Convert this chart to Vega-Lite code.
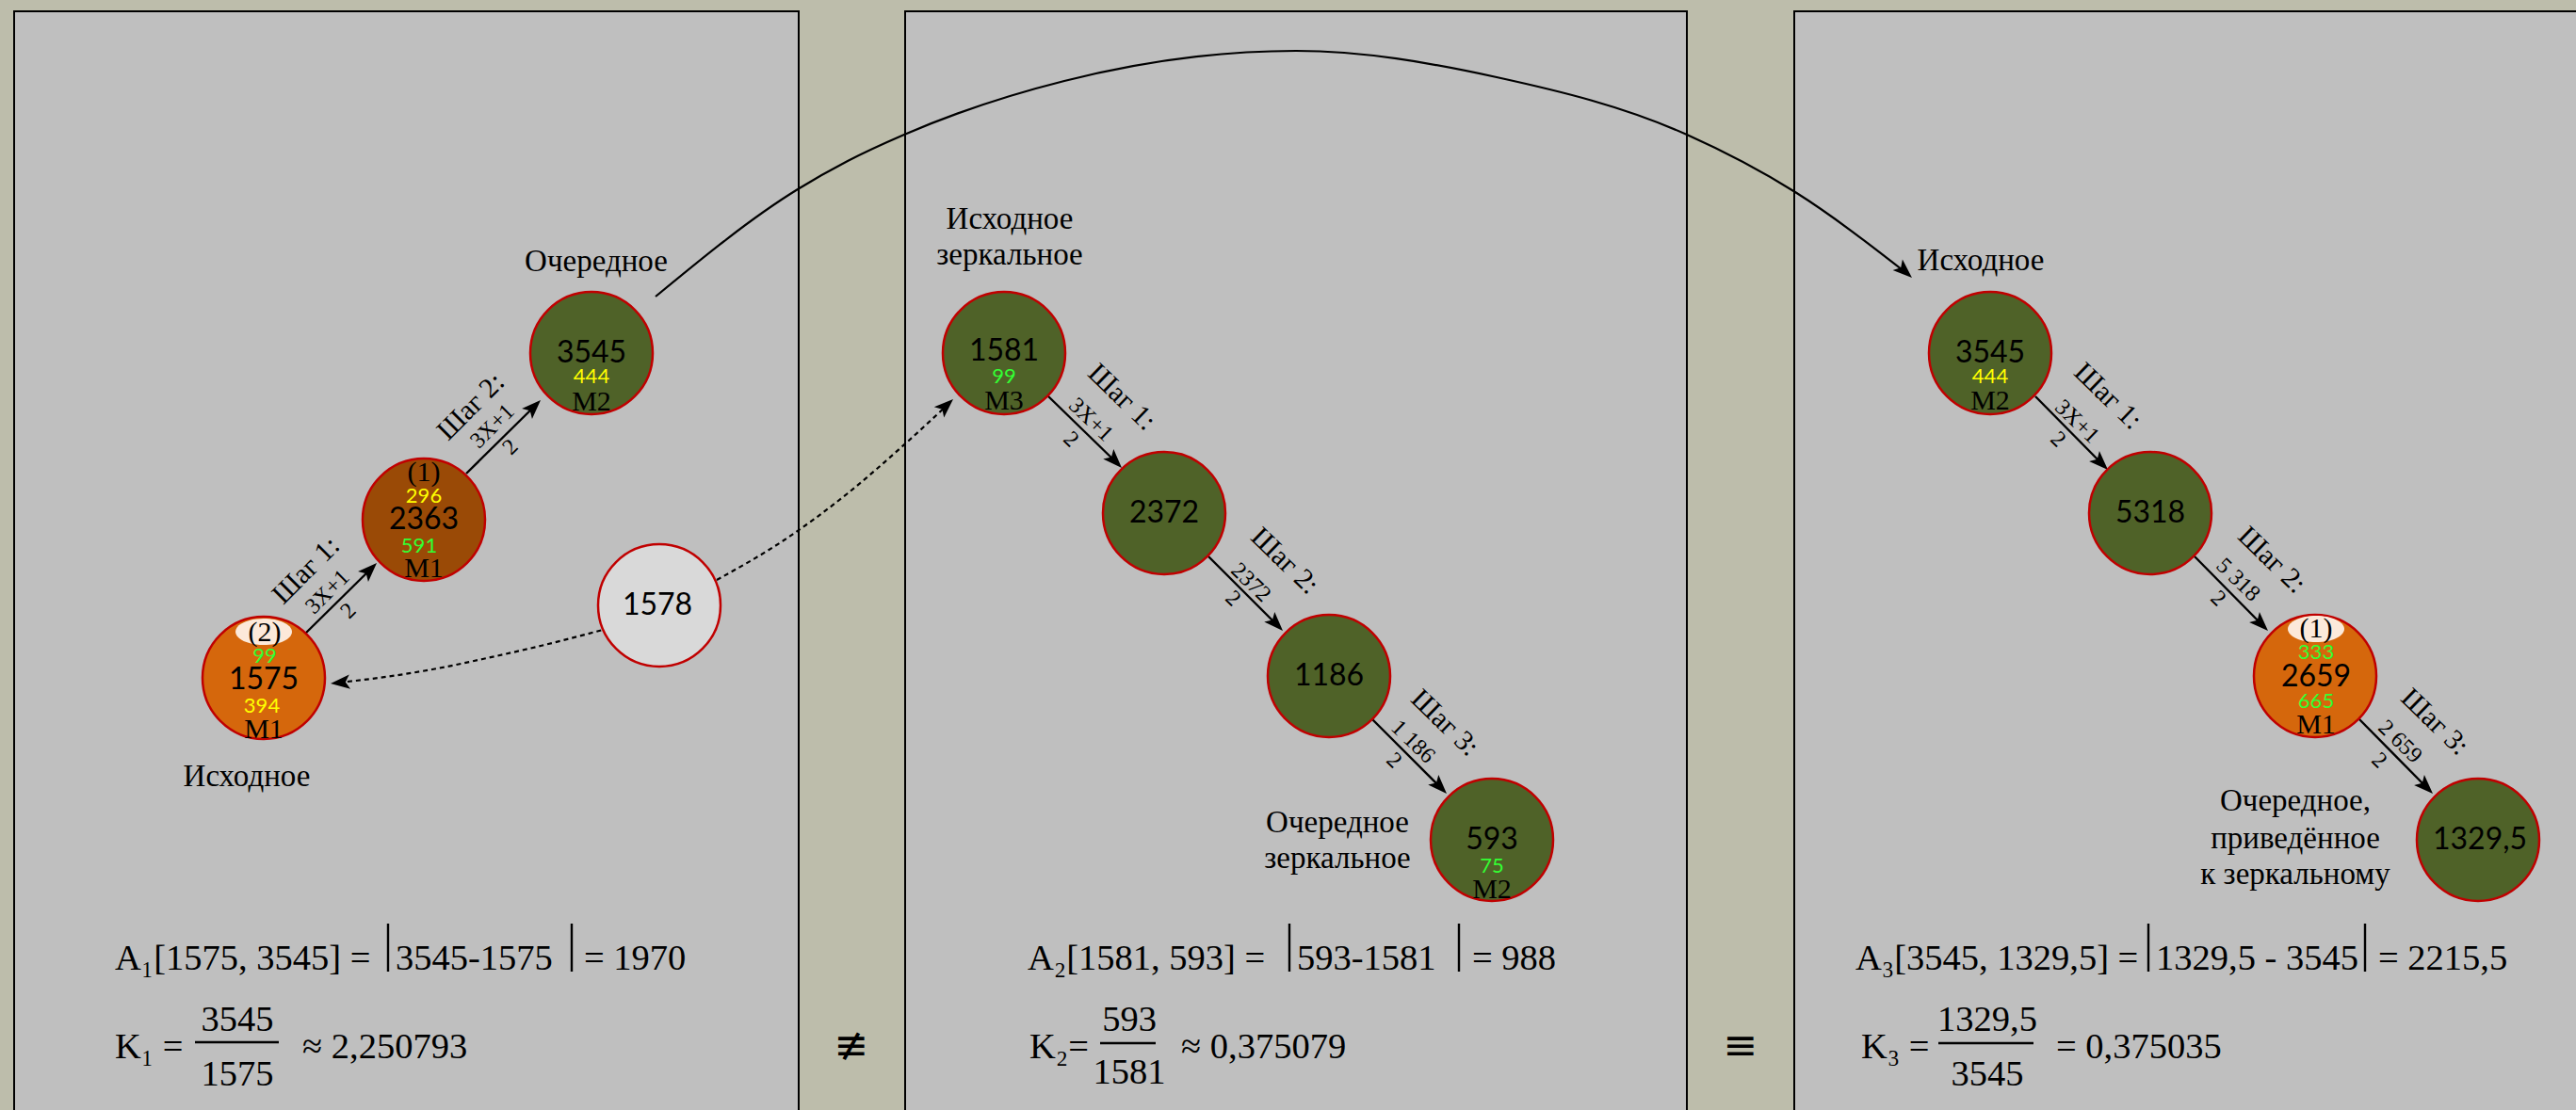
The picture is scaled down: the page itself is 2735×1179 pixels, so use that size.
{
  "$schema": "https://vega.github.io/schema/vega-lite/v6.json",
  "width": 2735,
  "height": 1179,
  "autosize": {"type": "fit", "contains": "padding"},
  "padding": 0,
  "background": "#BDBDAB",
  "config": {"view": {"stroke": null}},
  "datasets": {
    "panels": [
      {"x": 15, "x2": 848, "y": 12, "y2": 1200},
      {"x": 961, "x2": 1791, "y": 12, "y2": 1200},
      {"x": 1905, "x2": 2760, "y": 12, "y2": 1200}
    ],
    "curves": [
      {"s": "arc", "x": 696, "y": 315}, {"s": "arc", "x": 847, "y": 201}, {"s": "arc", "x": 900, "y": 171},
      {"s": "arc", "x": 960, "y": 143}, {"s": "arc", "x": 1130, "y": 86}, {"s": "arc", "x": 1376, "y": 54},
      {"s": "arc", "x": 1589, "y": 82}, {"s": "arc", "x": 1791, "y": 143}, {"s": "arc", "x": 1906, "y": 204},
      {"s": "arc", "x": 2024, "y": 290},
      {"s": "dotA", "x": 360, "y": 725}, {"s": "dotA", "x": 402, "y": 720}, {"s": "dotA", "x": 459, "y": 711},
      {"s": "dotA", "x": 517, "y": 699}, {"s": "dotA", "x": 574, "y": 686}, {"s": "dotA", "x": 640, "y": 669},
      {"s": "dotB", "x": 761, "y": 616}, {"s": "dotB", "x": 832, "y": 574}, {"s": "dotB", "x": 900, "y": 524},
      {"s": "dotB", "x": 957, "y": 475}, {"s": "dotB", "x": 1006, "y": 430}
    ],
    "rules": [
      {"x": 324, "y": 673, "x2": 394, "y2": 604}, {"x": 495, "y": 503, "x2": 568, "y2": 431},
      {"x": 1112, "y": 420, "x2": 1185, "y2": 491}, {"x": 1283, "y": 591, "x2": 1356, "y2": 664},
      {"x": 1457, "y": 764, "x2": 1530, "y2": 837},
      {"x": 2161, "y": 421, "x2": 2232, "y2": 493}, {"x": 2330, "y": 591, "x2": 2402, "y2": 664},
      {"x": 2504, "y": 763, "x2": 2577, "y2": 837},
      {"x": 412, "y": 981, "x2": 412, "y2": 1032}, {"x": 607, "y": 981, "x2": 607, "y2": 1032},
      {"x": 1369, "y": 981, "x2": 1369, "y2": 1032}, {"x": 1549, "y": 981, "x2": 1549, "y2": 1032},
      {"x": 2281, "y": 981, "x2": 2281, "y2": 1032}, {"x": 2511, "y": 981, "x2": 2511, "y2": 1032},
      {"x": 207, "y": 1107, "x2": 296, "y2": 1107}, {"x": 1168, "y": 1108, "x2": 1227, "y2": 1108},
      {"x": 2058, "y": 1108, "x2": 2159, "y2": 1108}
    ],
    "heads": [
      {"x": 400, "y": 598, "a": 45}, {"x": 574, "y": 425, "a": 45},
      {"x": 1191, "y": 497, "a": 136}, {"x": 1362, "y": 670, "a": 136}, {"x": 1536, "y": 843, "a": 136},
      {"x": 2238, "y": 499, "a": 135}, {"x": 2408, "y": 670, "a": 135}, {"x": 2583, "y": 843, "a": 135},
      {"x": 351, "y": 726, "a": 265}, {"x": 1012, "y": 424, "a": 47}, {"x": 2030, "y": 295, "a": 132}
    ],
    "nodes": [
      {"x": 280, "y": 720, "k": "orange"}, {"x": 450, "y": 552, "k": "brown"}, {"x": 628, "y": 375, "k": "green"},
      {"x": 700, "y": 643, "k": "grey"}, {"x": 1066, "y": 375, "k": "green"}, {"x": 1236, "y": 545, "k": "green"},
      {"x": 1411, "y": 718, "k": "green"}, {"x": 1584, "y": 892, "k": "green"}, {"x": 2113, "y": 375, "k": "green"},
      {"x": 2283, "y": 545, "k": "green"}, {"x": 2458, "y": 718, "k": "orange"}, {"x": 2631, "y": 892, "k": "green"}
    ],
    "caps": [
      {"x": 280, "y": 671}, {"x": 2459, "y": 668}
    ],
    "texts": [
      {"x": 280, "y": 722, "t": "1575", "k": "num"}, {"x": 450, "y": 552, "t": "2363", "k": "num"},
      {"x": 628, "y": 375, "t": "3545", "k": "num"}, {"x": 698, "y": 643, "t": "1578", "k": "num"},
      {"x": 1066, "y": 373, "t": "1581", "k": "num"}, {"x": 1236, "y": 545, "t": "2372", "k": "num"},
      {"x": 1411, "y": 718, "t": "1186", "k": "num"}, {"x": 1584, "y": 892, "t": "593", "k": "num"},
      {"x": 2113, "y": 375, "t": "3545", "k": "num"}, {"x": 2283, "y": 545, "t": "5318", "k": "num"},
      {"x": 2459, "y": 719, "t": "2659", "k": "num"}, {"x": 2633, "y": 892, "t": "1329,5", "k": "num"},
      {"x": 281, "y": 697, "t": "99", "k": "green"}, {"x": 445, "y": 580, "t": "591", "k": "green"},
      {"x": 1066, "y": 400, "t": "99", "k": "green"}, {"x": 1584, "y": 920, "t": "75", "k": "green"},
      {"x": 2459, "y": 693, "t": "333", "k": "green"}, {"x": 2459, "y": 745, "t": "665", "k": "green"},
      {"x": 278, "y": 750, "t": "394", "k": "yellow"}, {"x": 450, "y": 527, "t": "296", "k": "yellow"},
      {"x": 628, "y": 400, "t": "444", "k": "yellow"}, {"x": 2113, "y": 400, "t": "444", "k": "yellow"},
      {"x": 281, "y": 672, "t": "(2)", "k": "mark"}, {"x": 450, "y": 502, "t": "(1)", "k": "mark"},
      {"x": 280, "y": 775, "t": "M1", "k": "mark"}, {"x": 450, "y": 604, "t": "M1", "k": "mark"},
      {"x": 628, "y": 427, "t": "M2", "k": "mark"}, {"x": 1066, "y": 426, "t": "M3", "k": "mark"},
      {"x": 1584, "y": 945, "t": "M2", "k": "mark"}, {"x": 2113, "y": 426, "t": "M2", "k": "mark"},
      {"x": 2459, "y": 668, "t": "(1)", "k": "mark"}, {"x": 2459, "y": 770, "t": "M1", "k": "mark"},
      {"x": 633, "y": 278, "t": "Очередное", "k": "label"}, {"x": 262, "y": 825, "t": "Исходное", "k": "label"},
      {"x": 1072, "y": 233, "t": "Исходное", "k": "label"}, {"x": 1072, "y": 271, "t": "зеркальное", "k": "label"},
      {"x": 1420, "y": 874, "t": "Очередное", "k": "label"}, {"x": 1420, "y": 912, "t": "зеркальное", "k": "label"},
      {"x": 2103, "y": 277, "t": "Исходное", "k": "label"}, {"x": 2437, "y": 851, "t": "Очередное,", "k": "label"},
      {"x": 2437, "y": 891, "t": "приведённое", "k": "label"}, {"x": 2437, "y": 929, "t": "к зеркальному", "k": "label"},
      {"x": 325, "y": 606, "t": "Шаг 1:", "k": "stepA"}, {"x": 500, "y": 432, "t": "Шаг 2:", "k": "stepA"},
      {"x": 348, "y": 629, "t": "3X+1", "k": "fracA"}, {"x": 370, "y": 649, "t": "2", "k": "fracA"},
      {"x": 523, "y": 453, "t": "3X+1", "k": "fracA"}, {"x": 542, "y": 475, "t": "2", "k": "fracA"},
      {"x": 1191, "y": 422, "t": "Шаг 1:", "k": "stepB"}, {"x": 1364, "y": 596, "t": "Шаг 2:", "k": "stepB"},
      {"x": 1534, "y": 768, "t": "Шаг 3:", "k": "stepB"}, {"x": 2238, "y": 421, "t": "Шаг 1:", "k": "stepB"},
      {"x": 2412, "y": 595, "t": "Шаг 2:", "k": "stepB"}, {"x": 2585, "y": 767, "t": "Шаг 3:", "k": "stepB"},
      {"x": 1158, "y": 446, "t": "3X+1", "k": "fracB"}, {"x": 1137, "y": 467, "t": "2", "k": "fracB"},
      {"x": 1328, "y": 619, "t": "2372", "k": "fracB"}, {"x": 1309, "y": 636, "t": "2", "k": "fracB"},
      {"x": 1500, "y": 788, "t": "1 186", "k": "fracB"}, {"x": 1480, "y": 808, "t": "2", "k": "fracB"},
      {"x": 2205, "y": 448, "t": "3X+1", "k": "fracB"}, {"x": 2185, "y": 467, "t": "2", "k": "fracB"},
      {"x": 2376, "y": 616, "t": "5 318", "k": "fracB"}, {"x": 2355, "y": 636, "t": "2", "k": "fracB"},
      {"x": 2548, "y": 788, "t": "2 659", "k": "fracB"}, {"x": 2526, "y": 808, "t": "2", "k": "fracB"},
      {"x": 122, "y": 1018, "t": "A₁[1575, 3545] =", "k": "formula"},
      {"x": 420, "y": 1018, "t": "3545-1575", "k": "formula"},
      {"x": 620, "y": 1018, "t": "= 1970", "k": "formula"},
      {"x": 1091, "y": 1018, "t": "A₂[1581, 593] =", "k": "formula"},
      {"x": 1377, "y": 1018, "t": "593-1581", "k": "formula"},
      {"x": 1563, "y": 1018, "t": "= 988", "k": "formula"},
      {"x": 1970, "y": 1018, "t": "A₃[3545, 1329,5] =", "k": "formula"},
      {"x": 2289, "y": 1018, "t": "1329,5 - 3545", "k": "formula"},
      {"x": 2525, "y": 1018, "t": "= 2215,5", "k": "formula"},
      {"x": 122, "y": 1112, "t": "K₁ =", "k": "formula"},
      {"x": 321, "y": 1112, "t": "≈ 2,250793", "k": "formula"},
      {"x": 1093, "y": 1112, "t": "K₂=", "k": "formula"},
      {"x": 1254, "y": 1112, "t": "≈ 0,375079", "k": "formula"},
      {"x": 1976, "y": 1112, "t": "K₃ =", "k": "formula"},
      {"x": 2183, "y": 1112, "t": "= 0,375035", "k": "formula"},
      {"x": 252, "y": 1083, "t": "3545", "k": "fnum"}, {"x": 252, "y": 1141, "t": "1575", "k": "fnum"},
      {"x": 1199, "y": 1083, "t": "593", "k": "fnum"}, {"x": 1199, "y": 1139, "t": "1581", "k": "fnum"},
      {"x": 2110, "y": 1083, "t": "1329,5", "k": "fnum"}, {"x": 2110, "y": 1141, "t": "3545", "k": "fnum"},
      {"x": 904, "y": 1112, "t": "≢", "k": "rel"}, {"x": 1848, "y": 1112, "t": "≡", "k": "rel"}
    ]
  },
  "encoding": {
    "x": {"field": "x", "type": "quantitative", "scale": {"domain": [0, 2735], "nice": false, "zero": false}, "axis": null},
    "y": {"field": "y", "type": "quantitative", "scale": {"domain": [0, 1179], "nice": false, "zero": false, "reverse": true}, "axis": null}
  },
  "layer": [
    {
      "data": {"name": "panels"},
      "mark": {"type": "rect", "fill": "#BFBFBF", "stroke": "#000000", "strokeWidth": 2, "clip": true},
      "encoding": {"x2": {"field": "x2"}, "y2": {"field": "y2"}}
    },
    {
      "data": {"name": "curves"},
      "transform": [{"filter": "datum.s == 'arc'"}],
      "mark": {"type": "line", "interpolate": "monotone", "color": "#000000", "strokeWidth": 2.2},
      "encoding": {"detail": {"field": "s"}}
    },
    {
      "data": {"name": "curves"},
      "transform": [{"filter": "datum.s != 'arc'"}],
      "mark": {"type": "line", "interpolate": "monotone", "color": "#000000", "strokeWidth": 2.2, "strokeDash": [5, 4]},
      "encoding": {"detail": {"field": "s"}}
    },
    {
      "data": {"name": "rules"},
      "mark": {"type": "rule", "color": "#000000", "strokeWidth": 2.4},
      "encoding": {"x2": {"field": "x2"}, "y2": {"field": "y2"}}
    },
    {
      "data": {"name": "heads"},
      "mark": {"type": "point", "shape": "M0,0L0.75,2L0,1.55L-0.75,2Z", "size": 420, "filled": true, "fill": "#000000", "opacity": 1, "strokeWidth": 0},
      "encoding": {"angle": {"field": "a", "type": "quantitative", "scale": {"domain": [0, 360], "range": [0, 360]}}}
    },
    {
      "data": {"name": "nodes"},
      "mark": {"type": "point", "shape": "circle", "size": 16900, "filled": true, "opacity": 1, "stroke": "#C00000", "strokeWidth": 2.5},
      "encoding": {
        "fill": {"field": "k", "type": "nominal", "legend": null,
          "scale": {"domain": ["orange", "brown", "green", "grey"], "range": ["#D5670C", "#9A4A06", "#4F6228", "#D9D9D9"]}}
      }
    },
    {
      "data": {"name": "caps"},
      "mark": {"type": "point", "shape": "M-1,0A1,0.47,0,1,0,1,0A1,0.47,0,1,0,-1,0Z", "size": 3600, "filled": true, "fill": "#FCE9DA", "opacity": 1, "strokeWidth": 0}
    },
    {
      "data": {"name": "texts"},
      "transform": [{"filter": "datum.k == 'num'"}],
      "mark": {"type": "text", "font": "Lato", "fontSize": 32, "color": "#000000"},
      "encoding": {"text": {"field": "t"}}
    },
    {
      "data": {"name": "texts"},
      "transform": [{"filter": "datum.k == 'green'"}],
      "mark": {"type": "text", "font": "Lato", "fontSize": 22, "color": "#33FF33"},
      "encoding": {"text": {"field": "t"}}
    },
    {
      "data": {"name": "texts"},
      "transform": [{"filter": "datum.k == 'yellow'"}],
      "mark": {"type": "text", "font": "Lato", "fontSize": 22, "color": "#FFFF00"},
      "encoding": {"text": {"field": "t"}}
    },
    {
      "data": {"name": "texts"},
      "transform": [{"filter": "datum.k == 'mark'"}],
      "mark": {"type": "text", "font": "Liberation Serif", "fontSize": 30, "color": "#000000"},
      "encoding": {"text": {"field": "t"}}
    },
    {
      "data": {"name": "texts"},
      "transform": [{"filter": "datum.k == 'label'"}],
      "mark": {"type": "text", "font": "Liberation Serif", "fontSize": 33, "color": "#000000"},
      "encoding": {"text": {"field": "t"}}
    },
    {
      "data": {"name": "texts"},
      "transform": [{"filter": "datum.k == 'stepA'"}],
      "mark": {"type": "text", "font": "Liberation Serif", "fontSize": 30, "color": "#000000", "angle": 315},
      "encoding": {"text": {"field": "t"}}
    },
    {
      "data": {"name": "texts"},
      "transform": [{"filter": "datum.k == 'fracA'"}],
      "mark": {"type": "text", "font": "Liberation Serif", "fontSize": 24, "color": "#000000", "angle": 315},
      "encoding": {"text": {"field": "t"}}
    },
    {
      "data": {"name": "texts"},
      "transform": [{"filter": "datum.k == 'stepB'"}],
      "mark": {"type": "text", "font": "Liberation Serif", "fontSize": 30, "color": "#000000", "angle": 44},
      "encoding": {"text": {"field": "t"}}
    },
    {
      "data": {"name": "texts"},
      "transform": [{"filter": "datum.k == 'fracB'"}],
      "mark": {"type": "text", "font": "Liberation Serif", "fontSize": 24, "color": "#000000", "angle": 44},
      "encoding": {"text": {"field": "t"}}
    },
    {
      "data": {"name": "texts"},
      "transform": [{"filter": "datum.k == 'formula'"}],
      "mark": {"type": "text", "font": "Liberation Serif", "fontSize": 38.5, "color": "#000000", "align": "left"},
      "encoding": {"text": {"field": "t"}}
    },
    {
      "data": {"name": "texts"},
      "transform": [{"filter": "datum.k == 'fnum'"}],
      "mark": {"type": "text", "font": "Liberation Serif", "fontSize": 38.5, "color": "#000000"},
      "encoding": {"text": {"field": "t"}}
    },
    {
      "data": {"name": "texts"},
      "transform": [{"filter": "datum.k == 'rel'"}],
      "mark": {"type": "text", "font": "DejaVu Sans", "fontSize": 44, "color": "#000000"},
      "encoding": {"text": {"field": "t"}}
    }
  ]
}
